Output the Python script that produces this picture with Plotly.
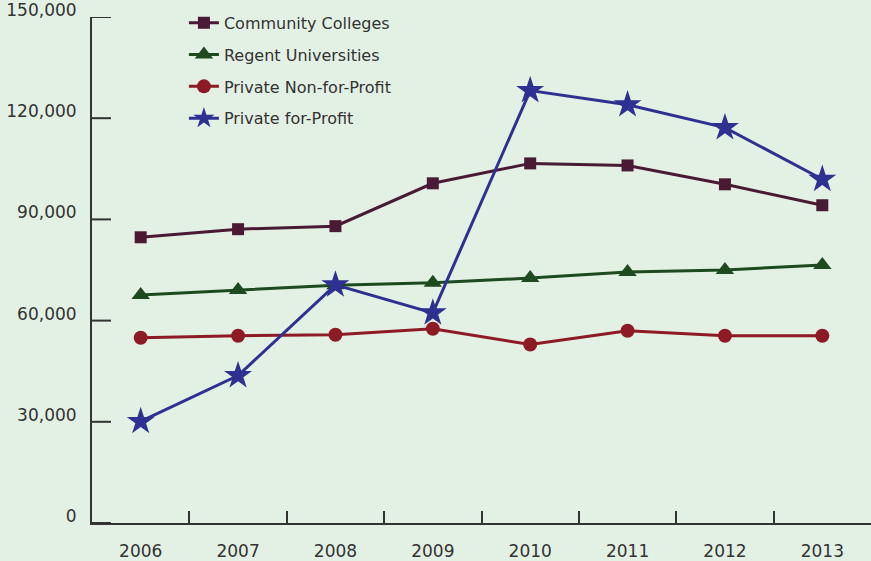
import plotly.graph_objects as go

years = ["2006", "2007", "2008", "2009", "2010", "2011", "2012", "2013"]
community_colleges = [84700, 87100, 88000, 100700, 106600, 106000, 100400, 94200]
regent_universities = [67600, 69100, 70500, 71200, 72600, 74400, 75000, 76500]
private_nonprofit = [54900, 55500, 55800, 57600, 52900, 57000, 55500, 55500]
private_forprofit = [30100, 43700, 70600, 62300, 128200, 124000, 117200, 101900]
y_ticks = [0, 30000, 60000, 90000, 120000, 150000]
y_labels = ["0", "30,000", "60,000", "90,000", "120,000", "150,000"]

series = [
    ("Community Colleges", community_colleges, "#4a1a35", "square", 12),
    ("Regent Universities", regent_universities, "#1d4a1e", "triangle-up", 16),
    ("Private Non-for-Profit", private_nonprofit, "#8d1a24", "circle", 14),
    ("Private for-Profit", private_forprofit, "#2e3192", "star", 21),
]

fig = go.Figure()
for name, vals, color, symbol, size in series:
    fig.add_trace(go.Scatter(
        x=years, y=vals, name=name, mode="lines+markers", legendgroup=name,
        line=dict(color=color, width=3),
        marker=dict(symbol=symbol, size=size, color=color),
    ))

# y tick marks pointing into the plot, placed on the y scale at each tick value
for v in y_ticks:
    fig.add_shape(
        type="line", xref="paper", xsizemode="pixel", xanchor=0, x0=0, x1=19,
        yref="y", y0=v, y1=v, line=dict(color="#333333", width=2), layer="above",
    )

fig.update_layout(
    width=871, height=561,
    paper_bgcolor="#e3f1e4",
    plot_bgcolor="#e3f1e4",
    margin=dict(l=92, r=0, t=15, b=38),
    font=dict(family="DejaVu Sans, sans-serif", size=17, color="#333333"),
    showlegend=True,
    legend=dict(
        x=0.118, y=1.022, xanchor="left", yanchor="top",
        bgcolor="rgba(0,0,0,0)", font=dict(size=16, color="#333333"),
        tracegroupgap=8,
    ),
    xaxis=dict(
        showgrid=False, zeroline=False, showline=True, linecolor="#333333", linewidth=2,
        ticks="inside", tickson="boundaries", ticklen=12, tickwidth=2, tickcolor="#333333",
        range=[-0.5, 7.5], ticklabelstandoff=12,
    ),
    yaxis=dict(
        showgrid=False, zeroline=False, showline=True, linecolor="#333333", linewidth=2,
        ticks="", range=[0, 150000], tickvals=y_ticks, ticktext=y_labels,
        ticklabelstandoff=10, ticklabelshift=-7, ticklabeloverflow="allow",
    ),
)

fig.write_html("out.html", config={"displayModeBar": False},
               post_script="document.body.style.margin='0';")
